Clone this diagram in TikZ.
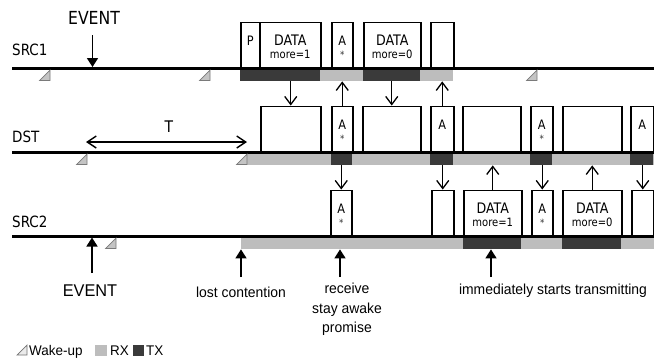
\documentclass[tikz,border=0pt]{standalone}
\usepackage{fontspec}
\setmainfont[FakeStretch=0.87]{DejaVu Sans}
\newfontfamily\lib[FakeStretch=0.96]{Liberation Sans}
\usetikzlibrary{arrows.meta}
\definecolor{rxc}{HTML}{BDBDBD}
\definecolor{txc}{HTML}{3A3A3A}
\definecolor{wkf}{HTML}{C4C4C4}
\definecolor{wkd}{HTML}{7A7A7A}
\tikzset{
  box/.style={draw=black, line width=1.5pt, inner sep=0pt, anchor=south west, minimum height=45pt},
  rxbar/.style={fill=rxc, draw=none, inner sep=0pt, anchor=north west, minimum height=13pt},
  txbar/.style={fill=txc, draw=none, inner sep=0pt, anchor=north west, minimum height=13pt},
  tline/.style={line width=3pt},
  conn/.style={line width=1.3pt, -{Straight Barb[length=8pt,width=12pt]}},
  ev/.style={line width=1.6pt, -{Triangle[length=9pt,width=11pt]}},
  tarr/.style={line width=1.4pt, {Straight Barb[length=9pt,width=12pt]}-{Straight Barb[length=9pt,width=12pt]}},
  rowlbl/.style={anchor=west, inner sep=0pt, font=\fontsize{15.5}{17}\selectfont},
  tdata/.style={anchor=base, inner sep=0pt, font=\fontsize{14.5}{16}\selectfont},
  tmore/.style={anchor=base, inner sep=0pt, font=\fontsize{11.5}{13}\selectfont},
  tletter/.style={anchor=base, inner sep=0pt, font=\fontsize{13}{15}\selectfont},
  tstar/.style={anchor=base, inner sep=0pt, font=\fontsize{10}{12}\selectfont, text=black!80},
  btxt/.style={anchor=base, inner sep=0pt, font=\lib\fontsize{14.5}{19.5}\selectfont, align=center},
  legtxt/.style={anchor=base west, inner sep=0pt, font=\lib\fontsize{14}{16}\selectfont},
  wake/.pic={\filldraw[fill=wkf, draw=wkd, line width=0.7pt] (-10.5,12.5) -- (0,12.5) -- (0,2) -- cycle;}
}
\begin{document}
\begin{tikzpicture}[x=1pt,y=-1pt]
\useasboundingbox (0,0) rectangle (654,360);
\fill[white] (0,0) rectangle (654,360);

% ---------------- SRC1 ----------------
\node[txbar, minimum width=80pt] (s1t1) at (240,68) {};
\node[rxbar, minimum width=43pt] (s1r1) at (320,68) {};
\node[txbar, minimum width=57pt] (s1t2) at (363,68) {};
\node[rxbar, minimum width=33pt] (s1r2) at (420,68) {};
\draw[tline] (12,68) -- (654,68);
\pic at (50,68) {wake};
\pic at (210,68) {wake};
\pic at (537,68) {wake};
\node[rowlbl] (lsrc1) at (12,50) {SRC1};

\node[box, minimum width=19pt] (s1p) at (240,68) {};
\node[box, minimum width=61pt] (s1d1) at (259,68) {};
\node[box, minimum width=21pt] (s1a) at (331,68) {};
\node[box, minimum width=57pt] (s1d2) at (363,68) {};
\node[box, minimum width=23pt] (s1e) at (430,68) {};
\node[tletter] (s1pT) at ([yshift=-24pt]s1p.north) {P};
\node[tdata] (s1d1T) at ([yshift=-24pt]s1d1.north) {DATA};
\node[tmore] (s1d1M) at ([yshift=-37pt]s1d1.north) {more=1};
\node[tletter] (s1aT) at ([yshift=-24pt]s1a.north) {A};
\node[tstar] (s1aS) at ([yshift=-37pt]s1a.north) {*};
\node[tdata] (s1d2T) at ([yshift=-24pt]s1d2.north) {DATA};
\node[tmore] (s1d2M) at ([yshift=-37pt]s1d2.north) {more=0};

\node[anchor=center, inner sep=0pt, font=\fontsize{18}{20}\selectfont] (ev1) at (94,18) {EVENT};
\coordinate (ev1a) at (92.5,35);
\coordinate (ev1b) at (92.5,67);
\draw[ev] (ev1a) -- (ev1b);

% ---------------- DST ----------------
\node[rxbar, minimum width=407pt] (drx) at (247,152) {};
\node[txbar, minimum width=21pt] (dtx1) at (331,152) {};
\node[txbar, minimum width=23pt] (dtx2) at (430,152) {};
\node[txbar, minimum width=22pt] (dtx3) at (530,152) {};
\node[txbar, minimum width=23pt] (dtx4) at (630,152) {};
\draw[tline] (12,152) -- (654,152);
\pic at (87,152) {wake};
\pic at (247,152) {wake};
\node[rowlbl] (ldst) at (12,137) {DST};

\node[box, minimum width=60pt] (d1) at (260,152) {};
\node[box, minimum width=21pt] (dA1) at (331,152) {};
\node[box, minimum width=58pt] (d2) at (362,152) {};
\node[box, minimum width=23pt] (dA2) at (430,152) {};
\node[box, minimum width=58pt] (d3) at (462,152) {};
\node[box, minimum width=22pt] (dA3) at (530,152) {};
\node[box, minimum width=59pt] (d4) at (562,152) {};
\node[box, minimum width=23pt] (dA4) at (630,152) {};
\node[tletter] (dA1T) at ([yshift=-24pt]dA1.north) {A};
\node[tstar] (dA1S) at ([yshift=-37pt]dA1.north) {*};
\node[tletter] (dA2T) at ([yshift=-24pt]dA2.north) {A};
\node[tletter] (dA3T) at ([yshift=-24pt]dA3.north) {A};
\node[tstar] (dA3S) at ([yshift=-37pt]dA3.north) {*};
\node[tletter] (dA4T) at ([yshift=-24pt]dA4.north) {A};

\coordinate (tL) at (86,142);
\coordinate (tR) at (247,142);
\draw[tarr] (tL) -- (tR);
\node[inner sep=0pt, font=\fontsize{16}{18}\selectfont] (tlbl) at (169,127) {T};

% ---------------- SRC2 ----------------
\node[rxbar, minimum width=413pt] (s2rx) at (241,236) {};
\node[txbar, minimum width=58pt] (s2t1) at (463,236) {};
\node[txbar, minimum width=59pt] (s2t2) at (562,236) {};
\draw[tline] (12,236) -- (654,236);
\pic at (116,236) {wake};
\node[rowlbl] (lsrc2) at (12,222) {SRC2};

\node[box, minimum width=21pt] (s2A1) at (330,236) {};
\node[box, minimum width=22pt] (s2e1) at (431,236) {};
\node[box, minimum width=58pt] (s2d1) at (463,236) {};
\node[box, minimum width=21pt] (s2A2) at (531,236) {};
\node[box, minimum width=59pt] (s2d2) at (562,236) {};
\node[box, minimum width=22pt] (s2e2) at (631,236) {};
\node[tletter] (s2A1T) at ([yshift=-24pt]s2A1.north) {A};
\node[tstar] (s2A1S) at ([yshift=-37pt]s2A1.north) {*};
\node[tdata] (s2d1T) at ([yshift=-24pt]s2d1.north) {DATA};
\node[tmore] (s2d1M) at ([yshift=-37pt]s2d1.north) {more=1};
\node[tletter] (s2A2T) at ([yshift=-24pt]s2A2.north) {A};
\node[tstar] (s2A2S) at ([yshift=-37pt]s2A2.north) {*};
\node[tdata] (s2d2T) at ([yshift=-24pt]s2d2.north) {DATA};
\node[tmore] (s2d2M) at ([yshift=-37pt]s2d2.north) {more=0};

% ---------------- connectors between rows ----------------
\draw[conn] (s1t1.south -| d1.north) -- (d1.north);
\draw[conn] (dA1.north) -- (dA1.north |- s1r1.south);
\draw[conn] (s1t2.south -| d2.north) -- (d2.north);
\draw[conn] (dA2.north) -- (dA2.north |- s1r2.south);
\draw[conn] (dtx1.south -| s2A1.north) -- (s2A1.north);
\draw[conn] (dtx2.south -| s2e1.north) -- (s2e1.north);
\draw[conn] (s2d1.north) -- (s2d1.north |- drx.south);
\draw[conn] (dtx3.south -| s2A2.north) -- (s2A2.north);
\draw[conn] (s2d2.north) -- (s2d2.north |- drx.south);
\draw[conn] (dtx4.south -| s2e2.north) -- (s2e2.north);

% ---------------- bottom annotations ----------------
\node[btxt, font=\lib\fontsize{17}{19}\selectfont] (ev2) at (90,296) {EVENT};
\coordinate (ev2a) at (92,273);
\coordinate (ev2b) at (92,237.5);
\draw[ev] (ev2a) -- (ev2b);

\node[btxt] (lost) at (241,297) {lost contention};
\coordinate (losta) at (241,277);
\draw[ev] (losta) -- (losta |- s2rx.south);

\node[btxt, anchor=north] (rcv) at (347,283) {receive\\stay awake\\promise};
\coordinate (rcva) at (340,277);
\draw[ev] (rcva) -- (rcva |- s2rx.south);

\node[btxt] (imm) at (553,294) {immediately starts transmitting};
\coordinate (imma) at (491,277);
\draw[ev] (imma) -- (imma |- s2rx.south);

% ---------------- legend ----------------
\filldraw[fill=black!8, draw=black!55, line width=0.7pt] (17,355) -- (27,355) -- (27,345) -- cycle;
\node[legtxt] (lwake) at (29,355) {Wake-up};
\node[rxbar, minimum width=12pt, minimum height=11pt] (lrx) at (95,345) {};
\node[legtxt] (lrxT) at (110,355) {RX};
\node[txbar, minimum width=11pt, minimum height=11pt] (ltx) at (133,345) {};
\node[legtxt] (ltxT) at (146,355) {TX};
\end{tikzpicture}
\end{document}
